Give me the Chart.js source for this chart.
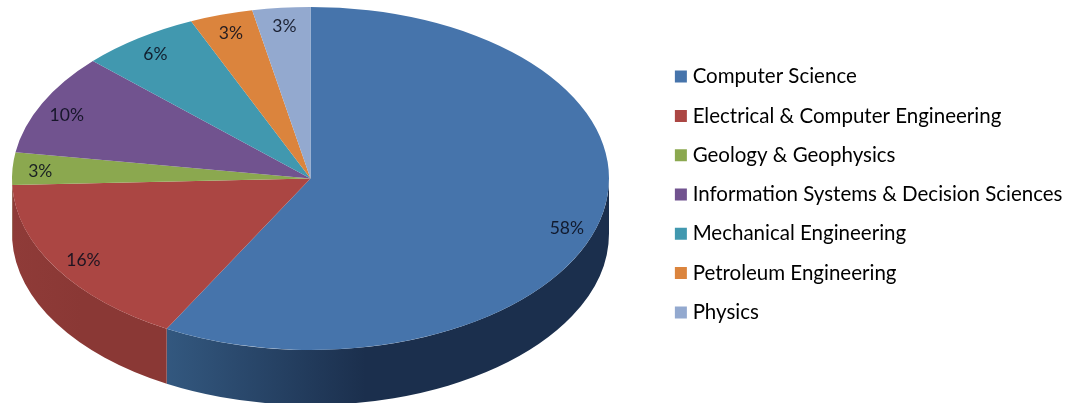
<!DOCTYPE html>
<html>
<head>
<meta charset="utf-8">
<script src="https://cdn.jsdelivr.net/npm/chart.js@4/dist/chart.umd.min.js"></script>
<style>
html, body { margin: 0; padding: 0; background: #fff; }
canvas { display: block; filter: blur(0.5px); }
</style>
</head>
<body>
<canvas id="testchart" width="1068" height="403"></canvas>
<script>
const departments = ['Computer Science', 'Electrical & Computer Engineering', 'Geology & Geophysics',
    'Information Systems & Decision Sciences', 'Mechanical Engineering', 'Petroleum Engineering', 'Physics'];
const shares = [58, 16.4, 3.05, 9.55, 6.45, 3.42, 3.13];
const faceColors = ['#4674AB', '#AB4643', '#8BA84F', '#71538F', '#4198AF', '#DB843D', '#93A9CF'];
const sideLeftColors = ['#33587f', '#8f3b38', '#74903f', '#5e4378', '#337f93', '#b86c30', '#7a8fb0'];
const sideRightColors = ['#1b2f4d', '#8a3835', '#627a34', '#4e3764', '#2a6b7c', '#9c5b28', '#667895'];

// the look of a tilted pie: squash the round arcs into an ellipse and add a wall below
const tilt = { cx: 310.5, cy: 178.5, rx: 298.5, ry: 171.5, depth: 55 };
// percent labels sit a little off the mid angle in the original
const labelNudgeX = [-1, -1, -5, -5, -2, 0, 0];
const labelNudgeY = [12, 2, 2, 4, 1, 0, 0];

const tiltedPie = {
    id: 'tiltedPie',
    beforeDatasetsDraw(chart) {
        const ctx = chart.ctx;
        const arcs = chart.getDatasetMeta(0).data;
        const R = arcs[0].outerRadius;
        arcs.forEach((arc, i) => {
            const a0 = Math.max(arc.startAngle, 0);
            const a1 = Math.min(arc.endAngle, Math.PI);
            if (a1 <= a0) return;
            const x0 = tilt.cx + tilt.rx * Math.cos(a1);
            const x1 = tilt.cx + tilt.rx * Math.cos(a0);
            const grad = ctx.createLinearGradient(x0, 0, x1, 0);
            grad.addColorStop(0, sideLeftColors[i]);
            grad.addColorStop(0.45, sideRightColors[i]);
            grad.addColorStop(1, sideRightColors[i]);
            ctx.beginPath();
            ctx.ellipse(tilt.cx, tilt.cy, tilt.rx, tilt.ry, 0, a0, a1);
            ctx.ellipse(tilt.cx, tilt.cy + tilt.depth, tilt.rx, tilt.ry, 0, a1, a0, true);
            ctx.closePath();
            ctx.fillStyle = grad;
            ctx.fill();
        });
        ctx.save();
        ctx.translate(tilt.cx, tilt.cy);
        ctx.scale(tilt.rx / R, tilt.ry / R);
        ctx.translate(-arcs[0].x, -arcs[0].y);
    },
    afterDatasetsDraw(chart) {
        const ctx = chart.ctx;
        ctx.restore();
        const arcs = chart.getDatasetMeta(0).data;
        const total = shares.reduce((a, b) => a + b, 0);
        ctx.save();
        ctx.font = '17.5px Lato';
        ctx.fillStyle = 'rgba(10,14,28,0.88)';
        ctx.textAlign = 'center';
        ctx.textBaseline = 'middle';
        arcs.forEach((arc, i) => {
            const mid = (arc.startAngle + arc.endAngle) / 2;
            const x = tilt.cx + 0.89 * tilt.rx * Math.cos(mid) + labelNudgeX[i];
            const y = tilt.cy + 0.89 * tilt.ry * Math.sin(mid) + labelNudgeY[i];
            ctx.fillText(Math.round(shares[i] / total * 100) + '%', x, y);
        });
        ctx.restore();
    }
};

new Chart(document.getElementById('testchart'), {
    type: 'pie',
    data: {
        labels: departments,
        datasets: [{
            data: shares,
            backgroundColor: faceColors,
            borderWidth: 0
        }]
    },
    options: {
        responsive: false,
        animation: false,
        events: [],
        layout: { padding: { right: -4.5, bottom: 14 } },
        plugins: {
            tooltip: { enabled: false },
            legend: {
                position: 'right',
                labels: {
                    boxWidth: 3,
                    boxHeight: 3,
                    padding: 18.8,
                    color: '#3b3b3b',
                    font: { family: 'Lato', size: 20.5 },
                    generateLabels: (chart) => chart.data.labels.map((text, i) => ({
                        text: text,
                        index: i,
                        fillStyle: faceColors[i],
                        strokeStyle: faceColors[i],
                        lineWidth: 9
                    }))
                }
            }
        }
    },
    plugins: [tiltedPie]
});
</script>
</body>
</html>
